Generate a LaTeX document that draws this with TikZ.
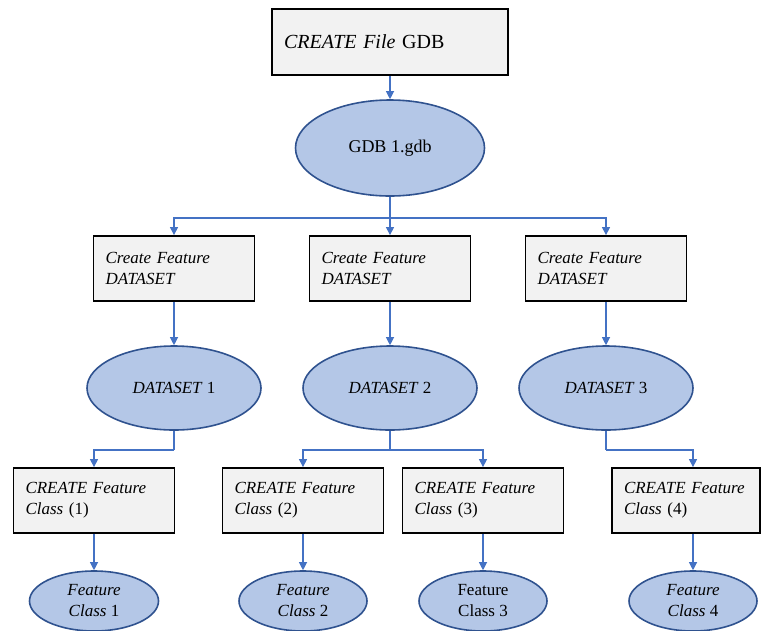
\documentclass[tikz,border=0pt]{standalone}
\usepackage{fontspec}
\setmainfont{Liberation Serif}
\usetikzlibrary{shapes.geometric,arrows.meta}

\definecolor{boxfill}{HTML}{F2F2F2}
\definecolor{ovalfill}{HTML}{B4C7E7}
\definecolor{ovalline}{HTML}{2F528F}
\definecolor{linkcol}{HTML}{4472C4}

\begin{document}
\begin{tikzpicture}[x=1pt,y=-1pt,
  every node/.style={font=\fontsize{17}{21}\selectfont, inner sep=0pt},
  stepbox/.style={draw=black, line width=1.8pt, fill=boxfill, rectangle,
    minimum width=#1, minimum height=65pt, text width=#1-24pt, align=left},
  stepbox/.default=161pt,
  oval/.style={draw=ovalline, line width=1.6pt, fill=ovalfill, ellipse,
    align=center},
  link/.style={draw=linkcol, line width=1.1pt},
  arrowlink/.style={link, -{Triangle[width=8pt,length=8pt]}}
]
\useasboundingbox (0,0) rectangle (762,630);

% top level
\node[stepbox=236pt, minimum height=66pt, font=\fontsize{20}{24}\selectfont] (top) at (390,42) {\textit{CREATE File} GDB};
\node[oval, minimum width=189pt, minimum height=96pt, font=\fontsize{18}{22}\selectfont] (gdb) at (390,148) {GDB 1.gdb};

% feature dataset creation
\node[stepbox] (b1) at (174,268.5) {\textit{Create Feature DATASET}};
\node[stepbox] (b2) at (390,268.5) {\textit{Create Feature DATASET}};
\node[stepbox] (b3) at (606,268.5) {\textit{Create Feature DATASET}};

\node[oval, minimum width=174pt, minimum height=84pt] (d1) at (174,388) {\textit{DATASET} 1};
\node[oval, minimum width=174pt, minimum height=84pt] (d2) at (390,388) {\textit{DATASET} 2};
\node[oval, minimum width=174pt, minimum height=84pt] (d3) at (606,388) {\textit{DATASET} 3};

% feature class creation
\node[stepbox] (c1) at (94,500.5) {\textit{CREATE Feature Class} (1)};
\node[stepbox] (c2) at (303,500.5) {\textit{CREATE Feature Class} (2)};
\node[stepbox] (c3) at (483,500.5) {\textit{CREATE Feature Class} (3)};
\node[stepbox=148pt] (c4) at (686,500.5) {\textit{CREATE Feature Class} (4)};

\node[oval, minimum width=129pt, minimum height=60pt] (f1) at (94,601) {\textit{Feature}\\\textit{Class} 1};
\node[oval, minimum width=128pt, minimum height=60pt] (f2) at (303,601) {\textit{Feature}\\\textit{Class} 2};
\node[oval, minimum width=128pt, minimum height=60pt] (f3) at (483,601) {Feature\\Class 3};
\node[oval, minimum width=128pt, minimum height=60pt] (f4) at (693,601) {\textit{Feature}\\\textit{Class} 4};

% junction points
\coordinate (j0) at (390,218);
\coordinate (j1) at (174,450);
\coordinate (j2) at (390,450);
\coordinate (j3) at (606,450);

% connectors
\draw[arrowlink] (top) -- (gdb);
\draw[link] (gdb.south) -- (j0);
\draw[arrowlink] (j0) -| (b1.north);
\draw[arrowlink] (j0) -- (b2.north);
\draw[arrowlink] (j0) -| (b3.north);

\draw[arrowlink] (b1) -- (d1);
\draw[arrowlink] (b2) -- (d2);
\draw[arrowlink] (b3) -- (d3);

\draw[link] (d1.south) -- (j1);
\draw[arrowlink] (j1) -| (c1.north);
\draw[link] (d2.south) -- (j2);
\draw[arrowlink] (j2) -| (c2.north);
\draw[arrowlink] (j2) -| (c3.north);
\draw[link] (d3.south) -- (j3);
\draw[arrowlink] (j3) -| (f4 |- c4.north);

\draw[arrowlink] (c1) -- (f1);
\draw[arrowlink] (c2) -- (f2);
\draw[arrowlink] (c3) -- (f3);
\draw[arrowlink] (c4.south -| f4) -- (f4.north);
\end{tikzpicture}
\end{document}
